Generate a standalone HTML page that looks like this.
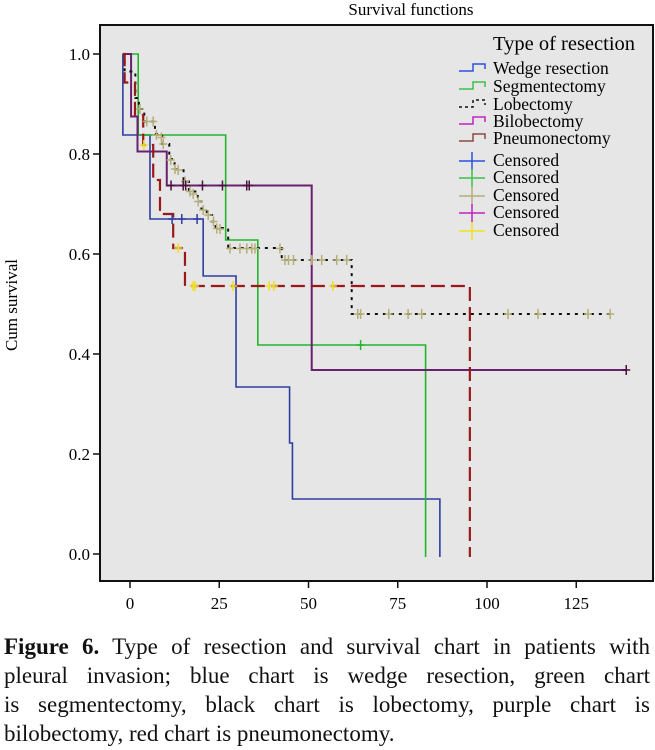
<!DOCTYPE html>
<html><head><meta charset="utf-8"><style>
body{margin:0;background:#fff;width:655px;height:750px;overflow:hidden;font-family:"Liberation Serif",serif;}
#cap{position:absolute;left:4px;top:632px;width:646px;font-size:23px;line-height:29px;color:#111;}
#cap div{text-align:justify;text-align-last:justify;white-space:nowrap;}
#cap div.last{text-align-last:left;}
</style></head><body>
<svg id="chart" width="655" height="630" style="position:absolute;left:0;top:0" font-family="Liberation Serif, serif">
<text x="411" y="15" font-size="17" text-anchor="middle">Survival functions</text>
<rect x="100" y="25" width="553" height="556" fill="#e6e6e6" stroke="#111" stroke-width="2"/>
<text transform="translate(17,305) rotate(-90)" font-size="17" text-anchor="middle">Cum survival</text>
<g id="axes"></g><g id="series"></g>
<g id="legend"></g>
</svg>
<div id="cap">
<div><b>Figure 6.</b> Type of resection and survival chart in patients with</div>
<div>pleural invasion; blue chart is wedge resection, green chart</div>
<div>is segmentectomy, black chart is lobectomy, purple chart is</div>
<div class="last">bilobectomy, red chart is pneumonectomy.</div>
</div>
<script>
const xTicks=[0,25,50,75,100,125];
const yTicks=[0,0.2,0.4,0.6,0.8,1.0];
const yTickLabels=["0.0","0.2","0.4","0.6","0.8","1.0"];
const seriesNames=["Wedge resection","Segmentectomy","Lobectomy","Bilobectomy","Pneumonectomy"];
const wedgeT=[-2,5.6,20.5,29.7,44.7,45.5,86.8];
const wedgeS=[0.838,0.67,0.556,0.334,0.222,0.11,0];
const wedgeCensT=[11.8,14.5,18.8];
const wedgeCensS=[0.67,0.67,0.67];
const segT=[2.3,26.8,35.8,82.8];
const segS=[0.838,0.628,0.418,0];
const segCensT=[64.6];
const segCensS=[0.418];
const lobeT=[-1.5,1.5,2.5,4,7,9,11,12.5,15,16.5,19,20,21.5,23,24,27.5,42.5,62.1];
const lobeS=[0.965,0.912,0.89,0.865,0.84,0.82,0.79,0.77,0.745,0.725,0.705,0.69,0.678,0.665,0.652,0.612,0.588,0.48];
const lobeEnd=134.5;
const lobeCensT=[2.8,4.7,6.5,7.4,8.8,9.3,11.4,12.6,13.5,15.4,16.8,17.7,19.1,20.5,21.9,23.4,24.3,25.2,28,30.8,32.7,34.1,35,42,43.4,44.4,45.8,50.9,53.7,57.9,60.7,63.8,64.6,72.5,77.9,81.7,105.9,114.3,128.3,134.5];
const lobeCensS=[0.89,0.865,0.865,0.838,0.833,0.82,0.788,0.77,0.768,0.745,0.725,0.72,0.705,0.688,0.678,0.665,0.651,0.65,0.611,0.611,0.611,0.611,0.611,0.611,0.588,0.588,0.588,0.588,0.588,0.588,0.588,0.48,0.48,0.48,0.48,0.48,0.48,0.48,0.48,0.48];
const biT=[0.3,2.1,10.3,50.9];
const biS=[0.875,0.805,0.737,0.368];
const biEnd=139;
const biCensT=[11.5,14.9,15.6,20.3,25.9,32.7,33.4,139];
const biCensS=[0.737,0.737,0.737,0.737,0.737,0.737,0.737,0.368];
const pneT=[-1.5,1.4,3.7,6.5,8.4,12.1,15.4,95.2];
const pneS=[0.943,0.878,0.818,0.748,0.68,0.612,0.536,0];
const pneCensT=[3.9,13.5,17.7,18.2,28.9,39,40.3,56.8];
const pneCensS=[0.818,0.612,0.536,0.536,0.536,0.536,0.536,0.536];

const NS="http://www.w3.org/2000/svg";
const X=t=>130+3.57*t, Y=v=>554-500*v;
function mk(tag,attrs,parent){const e=document.createElementNS(NS,tag);for(const k in attrs)e.setAttribute(k,attrs[k]);parent.appendChild(e);return e;}
const axes=document.getElementById('axes'), ser=document.getElementById('series'), leg=document.getElementById('legend');
xTicks.forEach(t=>{
  const l=mk('line',{x1:X(t),x2:X(t),y1:581,y2:588,stroke:'#111','stroke-width':1.5},axes);
  
  
  const tx=mk('text',{x:X(t),y:609,'font-size':17,'text-anchor':'middle'},axes);tx.textContent=t;
  
  
});
yTicks.forEach((v,i)=>{
  const l=mk('line',{x1:93,x2:100,y1:Y(v),y2:Y(v),stroke:'#111','stroke-width':1.5},axes);
  
  
  const tx=mk('text',{x:90,y:Y(v)+6,'font-size':17,'text-anchor':'end'},axes);tx.textContent=yTickLabels[i];
  
  
});
function curve(name,T,S,end,color,dash,w){
  let d='M'+X(-2)+' '+Y(1);
  T.forEach((t,i)=>{d+=' H'+X(t)+' V'+(S[i]===0?Y(0)+3:Y(S[i]));});
  if(end!==null)d+=' H'+X(end);
  const p=mk('path',{d:d,fill:'none',stroke:color,'stroke-width':w},ser);
  if(dash)p.setAttribute('stroke-dasharray',dash);
  
  
}
function cens(name,T,S,color){
  T.forEach((t,i)=>{
    const p=mk('path',{d:'M'+(X(t)-4)+' '+Y(S[i])+' h8 M'+X(t)+' '+(Y(S[i])-5)+' v10',stroke:color,'stroke-width':1.5,fill:'none'},ser);
    
    
  });
}
curve('wedge-resection-line',wedgeT,wedgeS,null,'#2d3fa0',null,1.6);
curve('segmentectomy-line',segT,segS,null,'#22b52c',null,1.6);
curve('bilobectomy-line',biT,biS,biEnd,'#6a2070',null,2);
curve('lobectomy-line',lobeT,lobeS,lobeEnd,'#111','3 5',2);
curve('pneumonectomy-line',pneT,pneS,null,'#9a1818','14 6',2.2);
cens('wedge-censor',wedgeCensT,wedgeCensS,'#2d3fa0');
cens('segmentectomy-censor',segCensT,segCensS,'#22b52c');
cens('lobectomy-censor',lobeCensT,lobeCensS,'#b5ae78');
cens('bilobectomy-censor',biCensT,biCensS,'#4a1040');
cens('pneumonectomy-censor',pneCensT,pneCensS,'#f0e020');
const lt=mk('text',{x:493,y:50,'font-size':20.5},leg);lt.textContent='Type of resection';


const lcol=['#2a50e0','#3cc04a','#111','#c020c0','#8a4a44'];
const lys=[69,87,105,122,139];
seriesNames.forEach((n,i)=>{
  const y=lys[i];
  const p=mk('path',{d:'M459 '+(y+2)+' h14 v-7 h12 v5',fill:'none',stroke:lcol[i],'stroke-width':1.5},leg);
  if(i===2)p.setAttribute('stroke-dasharray','3 3');
  
  
  const t=mk('text',{x:493,y:y+5,'font-size':17.5},leg);t.textContent=n;
  
  
});
const ccol=['#2a50e0','#3cc04a','#b5ae78','#c020c0','#f0e020'];
const cys=[161,178,196,213,231];
ccol.forEach((c,i)=>{
  const y=cys[i];
  const p=mk('path',{d:'M459 '+y+' h26 M472 '+(y-9)+' v18',fill:'none',stroke:c,'stroke-width':1.5},leg);
  
  
  const t=mk('text',{x:493,y:y+5,'font-size':17.5},leg);t.textContent='Censored';
  
  
});
</script>
</body></html>
